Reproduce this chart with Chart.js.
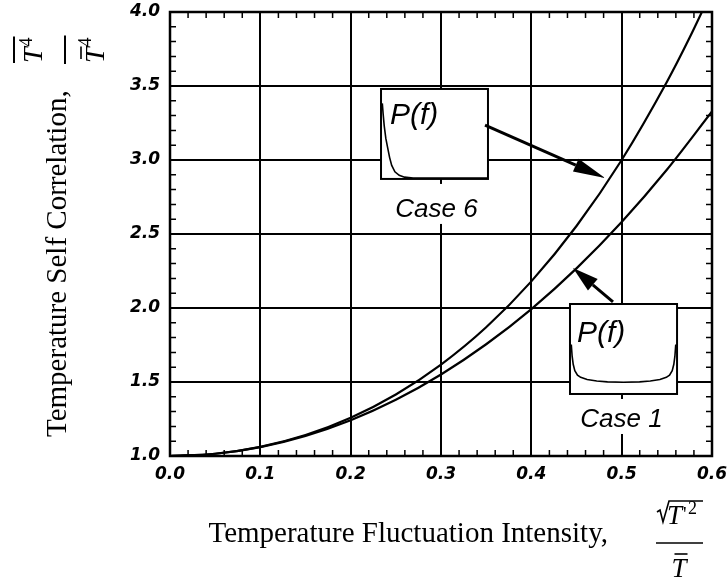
<!DOCTYPE html>
<html>
<head>
<meta charset="utf-8">
<script src="https://cdn.jsdelivr.net/npm/chart.js@4.4.1/dist/chart.umd.min.js"></script>
<style>
html,body{margin:0;padding:0;background:#fff;}
#wrap{position:relative;width:727px;height:585px;}
canvas{display:block;}
</style>
</head>
<body>
<div id="wrap"><canvas id="c" width="727" height="585"></canvas></div>
<script>
// ---- data ----
const xTicks = [0.0, 0.1, 0.2, 0.3, 0.4, 0.5, 0.6];
const yTicks = [1.0, 1.5, 2.0, 2.5, 3.0, 3.5, 4.0];

const case1Intensity = [0, 0.05, 0.10, 0.15, 0.20, 0.25, 0.30, 0.35, 0.40, 0.45, 0.50, 0.55, 0.60];
const case1Values    = [1.000, 1.015, 1.060, 1.136, 1.242, 1.380, 1.551, 1.755, 1.993, 2.268, 2.581, 2.934, 3.328];

const case6Intensity = [0, 0.05, 0.10, 0.15, 0.20, 0.25, 0.30, 0.35, 0.40, 0.45, 0.50, 0.55, 0.575, 0.60];
const case6Values    = [1.000, 1.015, 1.062, 1.142, 1.259, 1.416, 1.618, 1.870, 2.180, 2.554, 3.000, 3.527, 3.824, 4.145];

// inset P(f) shapes (normalised to the inset box, 0..1)
const pdf6X = [0.012, 0.02, 0.03, 0.045, 0.06, 0.08, 0.10, 0.13, 0.17, 0.22, 0.30, 1.0];
const pdf6Y = [0.84, 0.72, 0.59, 0.45, 0.36, 0.24, 0.15, 0.08, 0.04, 0.02, 0.01, 0.01];
const pdf1X = [0.012, 0.02, 0.03, 0.045, 0.07, 0.10, 0.16, 0.25, 0.35, 0.50, 0.65, 0.75, 0.84, 0.90, 0.93, 0.955, 0.97, 0.98, 0.988];
const pdf1Y = [0.55, 0.42, 0.33, 0.26, 0.21, 0.185, 0.16, 0.145, 0.135, 0.13, 0.135, 0.145, 0.16, 0.185, 0.21, 0.26, 0.33, 0.42, 0.55];

const xMinorStep = 0.02;
const yMinorStep = 0.1;

// ---- annotation placement (data units) ----
const case6Box = {x0: 0.2336, x1: 0.352, y0: 2.872, y1: 3.48, label: 'Case 6'};
const case1Box = {x0: 0.4428, x1: 0.5613, y0: 1.419, y1: 2.027, label: 'Case 1'};
const arrow6 = {from: [0.3487, 3.236], to: [0.4816, 2.878]};
const arrow1 = {from: [0.4904, 2.041], to: [0.4461, 2.270]};

const tickFont = {family: '"DejaVu Sans", "Liberation Sans", sans-serif', size: 17, weight: 'bold', style: 'italic'};
const SERIF = '"Liberation Serif", "Times New Roman", serif';

function drawArrow(ctx, x0, y0, x1, y1, headLen, headW, lw) {
  const ang = Math.atan2(y1 - y0, x1 - x0);
  const bx = x1 - headLen * Math.cos(ang), by = y1 - headLen * Math.sin(ang);
  ctx.lineWidth = lw;
  ctx.beginPath(); ctx.moveTo(x0, y0); ctx.lineTo(bx, by); ctx.stroke();
  ctx.beginPath();
  ctx.moveTo(x1, y1);
  ctx.lineTo(bx + headW / 2 * Math.sin(ang), by - headW / 2 * Math.cos(ang));
  ctx.lineTo(bx - headW / 2 * Math.sin(ang), by + headW / 2 * Math.cos(ang));
  ctx.closePath(); ctx.fill();
}

function drawInset(ctx, x, y, box, px, py, pOff, labelOff) {
  const L = x.getPixelForValue(box.x0), R = x.getPixelForValue(box.x1);
  const T = y.getPixelForValue(box.y1), B = y.getPixelForValue(box.y0);
  ctx.fillStyle = '#fff';
  ctx.fillRect(L, T, R - L, B - T);
  ctx.strokeStyle = '#000'; ctx.lineWidth = 2;
  ctx.strokeRect(L, T, R - L, B - T);
  ctx.lineWidth = 1.6;
  ctx.beginPath();
  px.forEach((v, i) => {
    const cx = L + v * (R - L), cy = B - py[i] * (B - T);
    if (i === 0) ctx.moveTo(cx, cy); else ctx.lineTo(cx, cy);
  });
  ctx.stroke();
  ctx.fillStyle = '#000';
  ctx.font = 'italic 30px "Liberation Sans", Arial, sans-serif';
  ctx.textAlign = 'left'; ctx.textBaseline = 'alphabetic';
  ctx.fillText('P(f)', L + pOff[0], T + pOff[1]);
  ctx.font = 'italic 26px "Liberation Sans", Arial, sans-serif';
  const cx = (L + R) / 2 + labelOff[0];
  const base = B + labelOff[1];
  const w = ctx.measureText(box.label).width;
  ctx.fillStyle = '#fff';
  ctx.fillRect(cx - w / 2 - 6, B + 5, w + 12, base + 7 - (B + 5));
  ctx.fillStyle = '#000';
  ctx.textAlign = 'center';
  ctx.fillText(box.label, cx, base);
}

const decor = {
  id: 'decor',
  afterDraw(chart) {
    const {ctx, chartArea: a, scales: {x, y}} = chart;
    ctx.save();
    ctx.strokeStyle = '#000'; ctx.fillStyle = '#000';
    // minor ticks (inward, all four sides)
    ctx.lineWidth = 1.5;
    ctx.beginPath();
    const nx = Math.round((xTicks[xTicks.length - 1] - xTicks[0]) / xMinorStep);
    for (let i = 1; i < nx; i++) {
      if (i % 5 === 0) continue;
      const p = x.getPixelForValue(xTicks[0] + i * xMinorStep);
      ctx.moveTo(p, a.bottom); ctx.lineTo(p, a.bottom - 6);
      ctx.moveTo(p, a.top); ctx.lineTo(p, a.top + 6);
    }
    const ny = Math.round((yTicks[yTicks.length - 1] - yTicks[0]) / yMinorStep);
    for (let i = 1; i < ny; i++) {
      if (i % 5 === 0) continue;
      const p = y.getPixelForValue(yTicks[0] + i * yMinorStep);
      ctx.moveTo(a.left, p); ctx.lineTo(a.left + 6, p);
      ctx.moveTo(a.right, p); ctx.lineTo(a.right - 6, p);
    }
    ctx.stroke();
    ctx.lineWidth = 2.5;
    ctx.strokeRect(a.left, a.top, a.right - a.left, a.bottom - a.top);

    drawInset(ctx, x, y, case6Box, pdf6X, pdf6Y, [9, 35], [2, 38]);
    drawInset(ctx, x, y, case1Box, pdf1X, pdf1Y, [7, 38], [-2, 33]);

    ctx.fillStyle = '#000'; ctx.strokeStyle = '#000';
    drawArrow(ctx, x.getPixelForValue(arrow6.from[0]), y.getPixelForValue(arrow6.from[1]),
              x.getPixelForValue(arrow6.to[0]), y.getPixelForValue(arrow6.to[1]), 32, 14, 3);
    drawArrow(ctx, x.getPixelForValue(arrow1.from[0]), y.getPixelForValue(arrow1.from[1]),
              x.getPixelForValue(arrow1.to[0]), y.getPixelForValue(arrow1.to[1]), 26, 15, 3);

    // ---- x axis title ----
    ctx.fillStyle = '#000'; ctx.strokeStyle = '#000';
    ctx.textBaseline = 'alphabetic';
    ctx.font = '29px ' + SERIF;
    ctx.textAlign = 'right';
    ctx.fillText('Temperature Fluctuation Intensity,', 608, 542);
    ctx.textAlign = 'left';
    const fx = 656, by = 543;
    ctx.lineWidth = 1.6;
    ctx.beginPath();
    ctx.moveTo(fx + 1, by - 31); ctx.lineTo(fx + 4, by - 33);
    ctx.lineTo(fx + 7, by - 21); ctx.lineTo(fx + 13, by - 42); ctx.lineTo(fx + 47, by - 42);
    ctx.stroke();
    ctx.font = 'italic 27px ' + SERIF;
    ctx.fillText('T', fx + 11, by - 19);
    const tW = ctx.measureText('T').width;
    ctx.font = '20px ' + SERIF;
    ctx.fillText("'", fx + 11 + tW + 1, by - 22);
    ctx.font = '18px ' + SERIF;
    ctx.fillText('2', fx + 11 + tW + 6, by - 29);
    ctx.lineWidth = 1.6;
    ctx.beginPath(); ctx.moveTo(fx, by); ctx.lineTo(fx + 47, by); ctx.stroke();
    ctx.font = 'italic 27px ' + SERIF;
    const dx = fx + 23 - tW / 2;
    ctx.fillText('T', dx, by + 34);
    ctx.beginPath(); ctx.moveTo(dx + 3, by + 11); ctx.lineTo(dx + tW + 1, by + 11); ctx.stroke();

    // ---- y axis title (rotated) ----
    ctx.save();
    ctx.translate(66, 437);
    ctx.rotate(-Math.PI / 2);
    ctx.font = '29px ' + SERIF;
    const yt = 'Temperature Self Correlation,';
    ctx.fillText(yt, 0, 0);
    const f0 = 437 - 63;
    ctx.font = 'italic 28px ' + SERIF;
    const TW = ctx.measureText('T').width;
    ctx.fillText('T', f0, -24);
    ctx.font = '18px ' + SERIF;
    ctx.fillText('4', f0 + TW + 1, -34);
    const w4 = ctx.measureText('4').width;
    ctx.lineWidth = 2;
    ctx.beginPath(); ctx.moveTo(f0, -52); ctx.lineTo(f0 + TW + w4 + 2, -52); ctx.stroke();
    ctx.beginPath(); ctx.moveTo(f0 - 1, -1); ctx.lineTo(f0 + TW + w4 + 3, -1); ctx.stroke();
    ctx.font = 'italic 28px ' + SERIF;
    ctx.fillText('T', f0, 38);
    ctx.lineWidth = 1.6;
    ctx.beginPath(); ctx.moveTo(f0 + 4, 15); ctx.lineTo(f0 + TW + 1, 15); ctx.stroke();
    ctx.font = '18px ' + SERIF;
    ctx.fillText('4', f0 + TW + 1, 25);
    ctx.restore();

    ctx.restore();
  }
};

const ctx = document.getElementById('c').getContext('2d');
new Chart(ctx, {
  type: 'line',
  data: {
    datasets: [
      {
        label: 'Case 6',
        data: case6Intensity.map((v, i) => ({x: v, y: case6Values[i]})),
        borderColor: '#000', borderWidth: 2.2, pointRadius: 0,
        cubicInterpolationMode: 'monotone', fill: false
      },
      {
        label: 'Case 1',
        data: case1Intensity.map((v, i) => ({x: v, y: case1Values[i]})),
        borderColor: '#000', borderWidth: 2.2, pointRadius: 0,
        cubicInterpolationMode: 'monotone', fill: false
      }
    ]
  },
  options: {
    responsive: false,
    animation: false,
    devicePixelRatio: 1,
    layout: {padding: {left: 0, top: 12, right: 15, bottom: 0}},
    plugins: {legend: {display: false}, tooltip: {enabled: false}},
    scales: {
      x: {
        type: 'linear', min: xTicks[0], max: xTicks[xTicks.length - 1],
        afterBuildTicks: s => { s.ticks = xTicks.map(v => ({value: v})); },
        ticks: {font: tickFont, color: '#000', padding: 8, maxRotation: 0, autoSkip: false,
                callback: v => Number(v).toFixed(1)},
        grid: {color: '#000', lineWidth: 2, drawTicks: false},
        border: {display: false},
        afterFit: s => { s.height = 129; s.paddingLeft = 0; s.paddingRight = 0; }
      },
      y: {
        type: 'linear', min: yTicks[0], max: yTicks[yTicks.length - 1],
        afterBuildTicks: s => { s.ticks = yTicks.map(v => ({value: v})); },
        ticks: {font: tickFont, color: '#000', padding: 10, autoSkip: false,
                callback: v => Number(v).toFixed(1)},
        grid: {color: '#000', lineWidth: 2, drawTicks: false},
        border: {display: false},
        afterFit: s => { s.width = 170; s.paddingTop = 0; s.paddingBottom = 0; }
      }
    }
  },
  plugins: [decor]
});
</script>
</body>
</html>
